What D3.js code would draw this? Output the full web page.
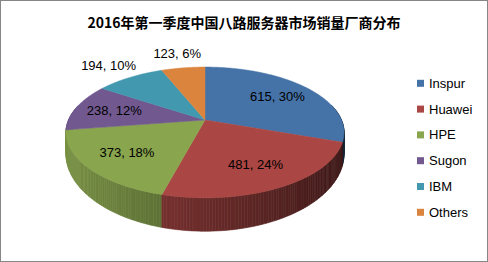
<!DOCTYPE html>
<html>
<head>
<meta charset="utf-8">
<script src="https://cdn.jsdelivr.net/npm/d3@7"></script>
<style>
  body { margin: 0; background: #fff; }
  svg { display: block; }
  text { font-family: "Liberation Sans", Arial, sans-serif; }
</style>
</head>
<body>
<div id="chart"></div>
<script>
// data
var title = "2016年第一季度中国八路服务器市场销量厂商分布";
var vendors = ["Inspur", "Huawei", "HPE", "Sugon", "IBM", "Others"];
var units = [615, 481, 373, 238, 194, 123];
var shares = ["30%", "24%", "18%", "12%", "10%", "6%"];
var colors = ["#4572A7", "#AA4643", "#89A54E", "#71588F", "#4198AF", "#DB843D"];

var W = 488, H = 262;

// 3d pie look (rough perspective like excel)
var cx = 205, rx = 136.5, persp = 0.19;
var cyTop = 120, ryTop = 63;
var cyBot = 139, ryBot = 74.7;

function proj(a, r, bottom) {
  var u = r * Math.sin(a), v = r * Math.cos(a);
  var k = 1 / (1 + persp * v);
  var cy = bottom ? cyBot : cyTop, ry = bottom ? ryBot : ryTop;
  return [cx + rx * u * k, cy - ry * v * k];
}

var svg = d3.select("#chart").append("svg")
    .attr("width", W)
    .attr("height", H);

svg.append("rect")
    .attr("x", 0.5).attr("y", 0.5)
    .attr("width", W - 1).attr("height", H - 1)
    .attr("fill", "#fff")
    .attr("stroke", "#868686");

svg.append("text")
    .attr("x", 244)
    .attr("y", 28)
    .attr("text-anchor", "middle")
    .style("font-family", "'Noto Sans CJK SC', sans-serif")
    .style("font-weight", "bold")
    .style("font-size", "14px")
    .attr("fill", "#000")
    .text(title);

var data = vendors.map(function(v, i) {
  return {name: v, value: units[i], share: shares[i], color: colors[i]};
});

var arcs = d3.pie().sort(null).value(function(d) { return d.value; })(data);

// side walls, split into thin quads and painted back to front
var quads = [];
var step = Math.PI / 180;
arcs.forEach(function(a) {
  for (var t = a.startAngle; t < a.endAngle - 1e-9; t += step) {
    var t1 = Math.min(t + step, a.endAngle);
    var tm = (t + t1) / 2;
    if (Math.cos(tm) > 0.25) continue;
    var f = 0.62 - 0.28 * Math.sin(tm);
    var c = d3.rgb(a.data.color);
    quads.push({
      pts: [proj(t, 1, false), proj(t1, 1, false), proj(t1, 1, true), proj(t, 1, true)],
      depth: Math.cos(tm),
      fill: d3.rgb(c.r * f, c.g * f, c.b * f).toString()
    });
  }
});
quads.sort(function(a, b) { return b.depth - a.depth; });

svg.append("g").selectAll("path")
    .data(quads)
  .enter().append("path")
    .attr("d", function(d) { return "M" + d.pts.join("L") + "Z"; })
    .attr("fill", function(d) { return d.fill; })
    .attr("stroke", function(d) { return d.fill; })
    .attr("stroke-width", 0.6);

// top faces
function topPath(a) {
  var pts = [proj(0, 0, false)];
  var n = Math.max(2, Math.ceil((a.endAngle - a.startAngle) / (step / 2)));
  for (var i = 0; i <= n; i++) {
    var t = a.startAngle + (a.endAngle - a.startAngle) * i / n;
    pts.push(proj(t, 1, false));
  }
  return d3.line()(pts) + "Z";
}

svg.append("g").selectAll("path")
    .data(arcs)
  .enter().append("path")
    .attr("d", topPath)
    .attr("fill", function(d) { return d.data.color; })
    .attr("stroke", function(d) { return d.data.color; })
    .attr("stroke-width", 0.5);

// data labels
svg.append("g").selectAll("text")
    .data(arcs)
  .enter().append("text")
    .attr("transform", function(d) {
      var mid = (d.startAngle + d.endAngle) / 2;
      var frac = (d.endAngle - d.startAngle) / (2 * Math.PI);
      var p = proj(mid, frac > 0.11 ? 0.7 : 1.34, false);
      return "translate(" + p[0] + "," + p[1] + ")";
    })
    .attr("dy", "0.35em")
    .attr("text-anchor", "middle")
    .style("font-size", "13px")
    .attr("fill", "#000")
    .text(function(d) { return d.data.value + ", " + d.data.share; });

// legend
var ly = d3.scalePoint().domain(vendors).range([83.3, 212.3]);
var legend = svg.append("g").selectAll("g")
    .data(data)
  .enter().append("g")
    .attr("transform", function(d) { return "translate(417," + ly(d.name) + ")"; });

legend.append("rect")
    .attr("x", 0).attr("y", -3.5)
    .attr("width", 7).attr("height", 7)
    .attr("fill", function(d) { return d.color; });

legend.append("text")
    .attr("x", 12)
    .attr("dy", "0.35em")
    .style("font-size", "13px")
    .attr("fill", "#000")
    .text(function(d) { return d.name; });
</script>
</body>
</html>
